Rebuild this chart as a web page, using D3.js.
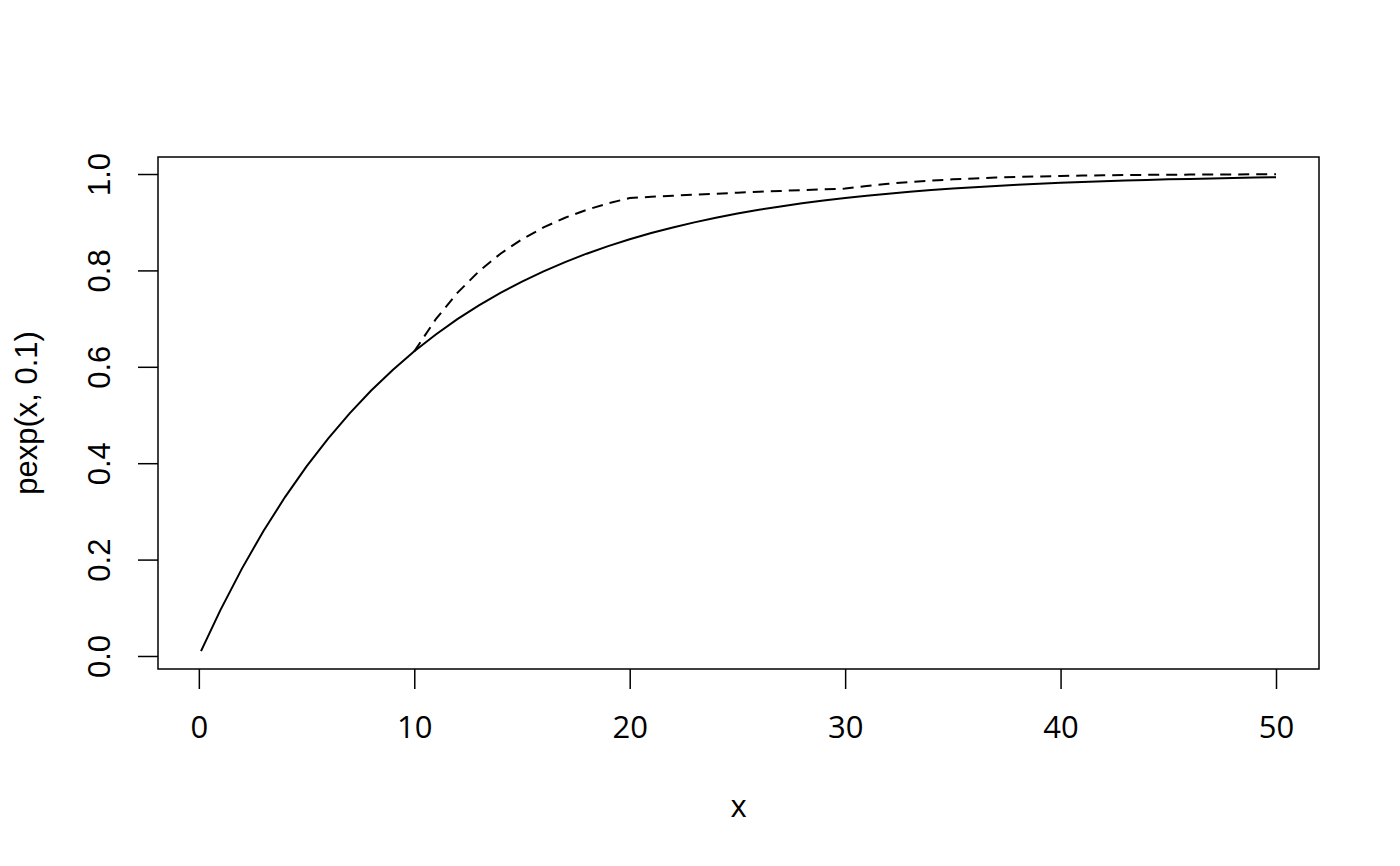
<!DOCTYPE html>
<html><head><meta charset="utf-8">
<script src="https://cdn.jsdelivr.net/npm/d3@7"></script>
<style>body{margin:0;background:#fff}</style>
</head><body><svg id="c" width="1400" height="866"></svg>
<script>
const solidX = [0.1,1,2,3,4,5,6,7,8,9,10,11,12,13,14,15,16,17,18,19,20,21,22,23,24,25,26,27,28,29,30,31,32,33,34,35,36,37,38,39,40,41,42,43,44,45,46,47,48,49,50];
const solidY = [0.0100,0.0952,0.1813,0.2592,0.3297,0.3935,0.4512,0.5034,0.5507,0.5934,0.6321,0.6671,0.6988,0.7275,0.7534,0.7769,0.7981,0.8173,0.8347,0.8504,0.8647,0.8775,0.8892,0.8997,0.9093,0.9179,0.9257,0.9328,0.9392,0.9450,0.9502,0.9550,0.9592,0.9631,0.9666,0.9698,0.9727,0.9753,0.9776,0.9798,0.9817,0.9834,0.9850,0.9864,0.9877,0.9889,0.9899,0.9909,0.9918,0.9926,0.9933];
const dashX = [10,11,12,13,14,15,16,17,18,19,20,21,22,23,24,25,26,27,28,29,30,31,32,33,34,35,36,37,38,39,40,41,42,43,44,45,46,47,48,49,50];
const dashY = [0.6321,0.6988,0.7534,0.7981,0.8347,0.8647,0.8892,0.9093,0.9257,0.9392,0.9502,0.9526,0.9550,0.9571,0.9592,0.9612,0.9631,0.9649,0.9666,0.9683,0.9698,0.9753,0.9798,0.9834,0.9864,0.9889,0.9909,0.9926,0.9939,0.9950,0.9959,0.9967,0.9973,0.9978,0.9982,0.9985,0.9988,0.9990,0.9992,0.9993,0.9994];
const xTicks = [0,10,20,30,40,50];
const yTicks = [0.0,0.2,0.4,0.6,0.8,1.0];
const xLabel = "x", yLabel = "pexp(x, 0.1)";

const L=158, R=1319, T=157, B=669;
const svg = d3.select("#c");
const x = d3.scaleLinear().domain([-1.896, 51.996]).range([L, R]);
const y = d3.scaleLinear().domain([-0.027, 1.0353]).range([B, T]);

svg.append("rect").attr("x",L).attr("y",T).attr("width",R-L).attr("height",B-T)
  .attr("fill","none").attr("stroke","#000").attr("stroke-width",1.5);

const xa = svg.append("g").attr("transform",`translate(0,${B})`)
  .call(d3.axisBottom(x).tickValues(xTicks).tickFormat(d3.format("d")).tickSize(20));
xa.select(".domain").remove();
xa.selectAll(".tick line").attr("stroke-width",1.5);
xa.selectAll(".tick text").attr("y",69).attr("dy",null)
  .attr("font-family","'Open Sans'").attr("font-size",31).attr("fill","#000");

const ya = svg.append("g").attr("transform",`translate(${L},0)`)
  .call(d3.axisLeft(y).tickValues(yTicks).tickFormat(d3.format(".1f")).tickSize(20));
ya.select(".domain").remove();
ya.selectAll(".tick line").attr("stroke-width",1.5);
ya.selectAll(".tick text").attr("x",null).attr("text-anchor","middle")
  .attr("transform","translate(-59,0) rotate(-90)").attr("dy","0.35em")
  .attr("font-family","'Liberation Sans'").attr("font-size",31).attr("fill","#000");

const line = d3.line().x(d=>x(d[0])).y(d=>y(d[1]));
svg.append("path").datum(solidX.map((v,i)=>[v,solidY[i]])).attr("d",line)
  .attr("fill","none").attr("stroke","#000").attr("stroke-width",2);
svg.append("path").datum(dashX.map((v,i)=>[v,dashY[i]])).attr("d",line)
  .attr("fill","none").attr("stroke","#000").attr("stroke-width",2).attr("stroke-dasharray","11,7");

svg.append("text").attr("x",(L+R)/2).attr("y",817).attr("text-anchor","middle")
  .attr("font-family","'Open Sans'").attr("font-size",31).text(xLabel);
svg.append("text").attr("transform",`translate(37,${(T+B)/2}) rotate(-90)`).attr("text-anchor","middle")
  .attr("font-family","'Liberation Sans'").attr("font-size",31).text(yLabel);
</script></body></html>
